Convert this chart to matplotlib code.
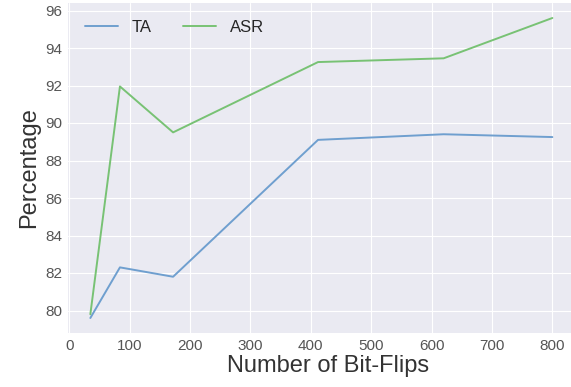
import matplotlib
matplotlib.use('Agg')
import matplotlib.pyplot as plt

# data
bit_flips = [35, 84, 172, 412, 620, 800]
ta = [79.6, 82.3, 81.8, 89.1, 89.4, 89.25]
asr = [79.8, 91.95, 89.5, 93.25, 93.45, 95.6]

plt.style.use('seaborn-v0_8-darkgrid')
plt.rcParams['font.family'] = ['Liberation Sans', 'DejaVu Sans']

fig = plt.figure(figsize=(5.71, 3.87), dpi=100)
# the axes runs slightly past the right edge, as in the cropped original
ax = fig.add_axes([68 / 571, 54 / 387, 520 / 571, 330 / 387])

ax.plot(bit_flips, ta, color='#6f9fcf', linewidth=1.4, label='TA')
ax.plot(bit_flips, asr, color='#78c274', linewidth=1.4, label='ASR')

ax.set_xlim(-2, 859)
ax.set_ylim(78.8, 96.4)
ax.set_xticks(range(0, 900, 100))
ax.set_yticks(range(80, 97, 2))
ax.tick_params(labelsize=11, labelcolor='#555555', pad=4)

ax.set_xlabel('Number of Bit-Flips', fontsize=17, color='#333333', labelpad=2)
ax.set_ylabel('Percentage', fontsize=17, color='#333333', labelpad=4)

ax.legend(loc='upper left', ncol=2, fontsize=12, frameon=False,
          handlelength=2.0, handletextpad=0.8, columnspacing=1.9,
          borderaxespad=0.6)

fig.savefig('out.png', dpi=100)
